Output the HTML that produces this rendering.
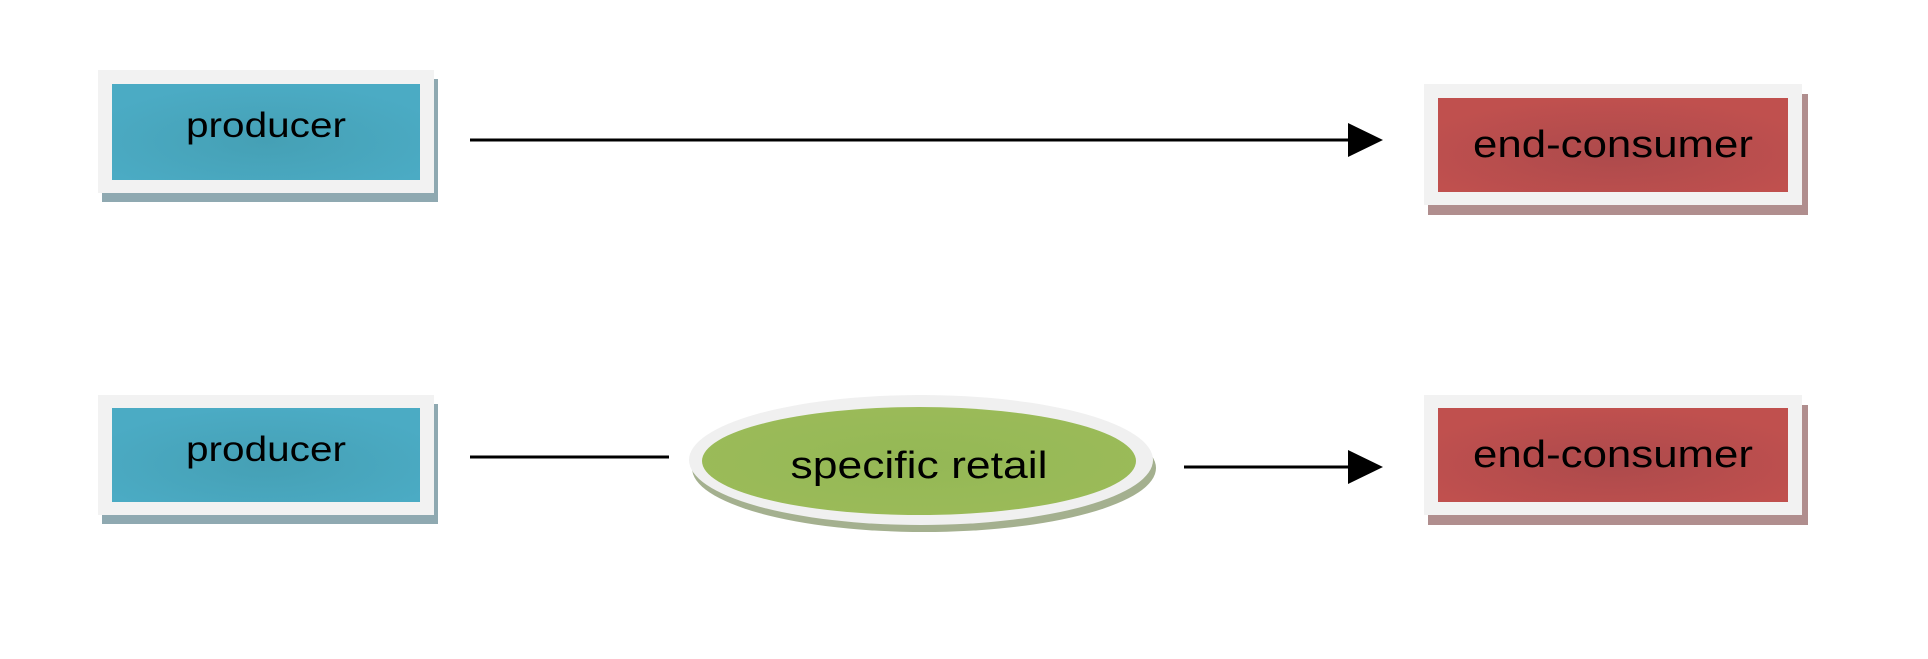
<!DOCTYPE html>
<html><head><style>
html,body{margin:0;padding:0;background:#fff;}
body{width:1928px;height:654px;position:relative;overflow:hidden;font-family:"Liberation Sans",sans-serif;}
</style></head><body>
<svg width="1928" height="654" viewBox="0 0 1928 654" xmlns="http://www.w3.org/2000/svg">
<defs>
<radialGradient id="bl" cx="50%" cy="60%" r="60%"><stop offset="0" stop-color="#45a0b5"/><stop offset="1" stop-color="#4babc4"/></radialGradient>
<radialGradient id="rd" cx="50%" cy="60%" r="60%"><stop offset="0" stop-color="#ad4a4c"/><stop offset="1" stop-color="#c0504e"/></radialGradient>
<radialGradient id="gr" cx="50%" cy="50%" r="55%"><stop offset="0" stop-color="#94b855"/><stop offset="1" stop-color="#9bbb59"/></radialGradient>
</defs>
<g font-family="Liberation Sans, sans-serif" text-anchor="middle" fill="#000">
<rect x="102" y="79" width="336" height="123" fill="#8fa9b1"/>
<rect x="98" y="70" width="336" height="123" fill="#f2f2f2"/>
<rect x="112" y="84" width="308" height="96" fill="url(#bl)"/>
<text x="266" y="137" font-size="35" textLength="160" lengthAdjust="spacingAndGlyphs">producer</text>
<rect x="1428" y="94" width="380" height="121" fill="#b08e8e"/>
<rect x="1424" y="84" width="378" height="121" fill="#f2f2f2"/>
<rect x="1438" y="98" width="350" height="94" fill="url(#rd)"/>
<text x="1613" y="157" font-size="38" textLength="280" lengthAdjust="spacingAndGlyphs">end-consumer</text>
<line x1="470" y1="140" x2="1352" y2="140" stroke="#000" stroke-width="3"/>
<polygon points="1348,123 1383,140 1348,157" fill="#000"/>
<rect x="102" y="404" width="336" height="120" fill="#8fa9b1"/>
<rect x="98" y="395" width="336" height="120" fill="#f2f2f2"/>
<rect x="112" y="408" width="308" height="94" fill="url(#bl)"/>
<text x="266" y="461" font-size="35" textLength="160" lengthAdjust="spacingAndGlyphs">producer</text>
<rect x="1428" y="405" width="380" height="120" fill="#b08e8e"/>
<rect x="1424" y="395" width="378" height="120" fill="#f2f2f2"/>
<rect x="1438" y="408" width="350" height="94" fill="url(#rd)"/>
<text x="1613" y="467" font-size="38" textLength="280" lengthAdjust="spacingAndGlyphs">end-consumer</text>
<ellipse cx="924" cy="468" rx="232" ry="64" fill="#a4b08f"/>
<ellipse cx="921" cy="460" rx="232" ry="65" fill="#f0f0f0"/>
<ellipse cx="919" cy="461" rx="217" ry="54" fill="url(#gr)"/>
<text x="919" y="478" font-size="38" textLength="257" lengthAdjust="spacingAndGlyphs">specific retail</text>
<line x1="470" y1="457" x2="669" y2="457" stroke="#000" stroke-width="3"/>
<line x1="1184" y1="467" x2="1352" y2="467" stroke="#000" stroke-width="3"/>
<polygon points="1348,450 1383,467 1348,484" fill="#000"/>
</g>
</svg>
</body></html>
